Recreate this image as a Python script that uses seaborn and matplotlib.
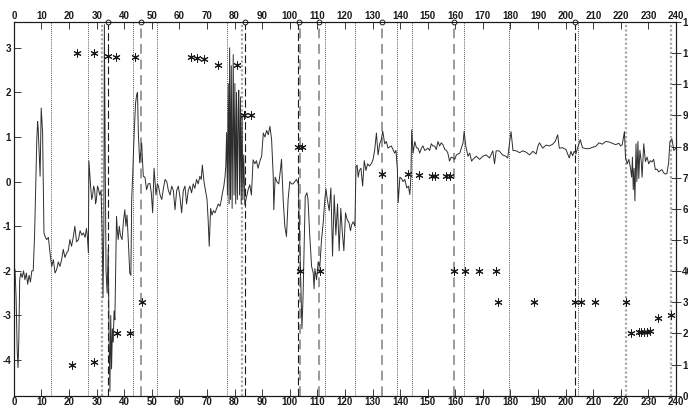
import matplotlib
matplotlib.use('Agg')
import matplotlib.pyplot as plt
import seaborn as sns

# left-axis signal, traced by hand
sig_x = [0, 0.4, 0.8, 1.2, 1.5, 1.8, 2.1, 2.5, 3, 3.5, 4, 4.5, 5, 5.5, 6, 6.5, 7, 7.5, 8, 8.3, 8.6, 8.8, 9.0, 9.5,
         9.9, 10.4, 10.9, 11.4, 11.9, 12.5, 13.1, 13.7,
         14.3, 14.9, 15.5, 16.1, 16.7, 17.3, 17.9, 18.5, 19.1, 19.7, 20.3, 20.9, 21.5, 22.1, 22.7, 23.4, 24, 24.6,
         25.2, 25.8, 26.3, 26.6, 27, 27.2, 27.8, 28.2, 28.5, 28.9, 29.3, 29.6, 29.9, 30.3, 30.6, 31.1, 31.6,
         32.0, 32.3, 32.6, 32.8, 33.1, 33.4, 33.8, 34.2, 34.5, 34.8, 35.1, 35.4, 35.7, 36.0, 36.3, 36.6, 36.9, 37.2,
         37.5, 37.8, 38.2, 38.6, 39.2, 39.7, 40.2, 40.6, 41.0, 41.5, 42, 42.4, 42.7, 43, 43.6, 44.1, 44.5, 44.8,
         45.1, 45.6, 46.3, 46.9,
         47.5, 48.1, 48.7, 49.3, 49.8, 50.3, 50.8, 51.5, 52.0, 52.4, 53.0, 53.6, 54.2, 54.8, 55.4, 56.0, 56.6, 57.2,
         57.8, 58.4, 59.0, 59.6, 60.2, 60.8, 61.4, 62, 62.6, 63.2, 63.8, 64.4, 65, 65.6, 66.2, 66.8, 67.4, 67.9,
         68.3, 68.9, 69.6, 70.0, 70.4, 70.8, 71.3, 71.8, 72.3, 72.9, 73.5, 74.1, 74.7, 75.2, 75.6, 76.1, 76.5,
         76.8, 77.1,
         77.4, 77.7, 78.0, 78.2, 78.5, 78.8, 79.1, 79.5, 79.8, 80.1, 80.4, 80.7, 81.0, 81.3, 81.5, 81.8, 82.1,
         82.4, 82.7, 83.0, 83.3, 83.7,
         84.3, 84.9, 85.5, 86.1, 86.7, 87.3, 87.9, 88.5, 89.1, 89.8, 90.4, 91, 91.6, 92.2, 92.8, 93.4, 94, 94.2,
         94.7, 95.3, 96, 96.5, 97, 97.6, 98.2, 98.8, 99.4, 100, 100.6, 101.2, 101.8, 102.4, 103.1, 103.4, 103.9,
         104.4, 104.8, 105.2, 105.6, 106.2, 106.6, 107.2, 107.9, 108.5, 108.8, 109.1, 109.7, 110.3, 110.9, 111.5,
         112.1, 112.7, 113.1, 113.6, 114.3, 114.9, 115.5, 116.1, 116.7, 117.3, 117.9, 118.5, 119.0, 119.6, 120.2,
         120.8, 121.5, 122.0, 122.4, 123, 123.6, 124, 124.4, 124.8, 125.2, 125.8, 126.4, 127, 127.6, 128.2, 128.9,
         129.7, 130.2, 130.8, 131.4, 132, 132.6, 133.2, 133.7, 134.4, 135, 135.6, 136.2, 136.8, 137.4, 138, 138.5,
         139, 139.3, 139.9, 140.5, 141.1, 141.7, 142.4, 143, 143.5, 143.9, 144.2, 144.7, 145.3, 145.9, 146.5,
         147.1, 147.7, 148.3, 148.9, 149.5, 150.1, 150.7, 151.3, 151.9, 152.5, 153.1, 153.7, 154.3, 154.9, 155.5,
         156.2, 156.8, 157.3, 157.9, 158.5, 159.2, 159.8, 160.4,
         161.6, 162.8, 163.2, 163.8, 164.6, 165.2, 165.9, 166.4, 167.6, 168.8, 170, 171.2, 172.4, 173.6, 174.2,
         174.8, 175.9, 177.1, 178.3, 179, 179.7, 180.2, 180.9, 182.1, 183.3, 184.5, 185.7, 186.9, 188.1, 189.3,
         189.9, 190.5, 191.7, 192.9, 194.1, 195.3, 196.2, 197.1, 197.7, 198.9, 200.1, 201.3, 201.9, 202.5, 203.1,
         203.7, 204.3, 205.3, 206.1, 207.3, 208.5, 209.7, 210.9, 212.1, 213.3, 214.5, 215.7, 216.9, 218.1, 219.3,
         219.9, 220.5, 221.3, 221.7,
         222.3, 222.9, 223.5, 223.9, 224.2, 224.5, 224.8, 225.1, 225.5, 225.8, 226.2, 226.5, 226.9, 227.4, 227.7,
         228.3, 228.9, 229.5, 230.1, 230.7, 231.3, 231.9, 232.5, 233.1, 233.7, 234.9, 235.5, 236.1, 236.7, 237.3,
         237.8, 238.5, 239.2, 240]
sig_y = [-1.95, -1.97, -2.6, -3.8, -4.17, -3.5, -2.2, -2.05, -2.15, -2.0, -2.2, -2.05, -2.3, -2.1, -2.25, -2.0,
         -2.0, -1.2, 0.2, 0.94, 1.35, 1.2, 0.9, 0.12, 1.65, 1.1, -1.15, -1.25, -1.3, -1.25, -1.6, -1.9,
         -1.75, -2.05, -1.97, -1.8, -1.9, -1.75, -1.52, -1.7, -1.6, -1.55, -1.3, -1.45, -1.25, -1.0, -1.35, -1.3,
         -1.1, -1.2, -1.15, -1.25, -1.05, -1.2, -1.6, 0.46, -0.1, -0.4, -0.33, -0.1, -0.2, -0.5, -0.4, -0.1, -0.15,
         -0.3, -0.2,
         -1.2, -2.6, -1.0, 3.52, 0.5, -2.0, -2.5, -1.5, -3.5, -4.7, -3.0, -4.2, -3.3, -3.6, -2.9, -3.1, -2.0, -0.78,
         -1.1, -1.3, -1.0, -1.2, -1.3, -0.9, -0.63, -1.0, -0.75, -1.37, -2.05, -2.1, -0.4, 0.05, 1.1, 1.76, 1.95,
         2.0, 1.1, 0.42, 0.87, 0.12,
         0.1, -0.18, -0.05, -0.04, -0.25, -0.7, 0.3, -0.3, -0.05, -0.1, -0.3, -0.4, -0.15, 0.05, 0.0, -0.2, -0.3,
         -0.1, -0.2, -0.63, -0.2, -0.1, -0.35, -0.7, -0.2, -0.1, -0.5, -0.2, -0.1, -0.25, -0.05, -0.15, 0.05, -0.05,
         0.12, 0.05, 0.37, 0.0, -0.25, -0.4, -0.85, -1.45, -0.6, -0.75, -0.65, -0.7, -0.6, -0.5, -0.55, -0.4, -0.25,
         -0.1, 0.1, 0.34, 1.1,
         -0.3, 2.2, -0.5, 3.0, -0.4, 2.6, -0.6, 2.85, -0.3, 2.2, -0.5, 2.0, -0.4, 1.6, 2.05, -0.3, 1.9, -0.5, 1.5,
         -0.4, 0.6, -0.52,
         -0.35, -0.18, -0.07, -0.3, 0.49, 0.4, 0.47, 0.3, 0.45, 0.57, 1.09, 1.0, 1.15, 1.05, 1.24, 0.95, 0.12, -0.63,
         0.1, 0.0, -0.05, 0.2, 0.5, -0.4, -1.0, -1.23, -0.4, 0.0, -0.05, -0.05, 0.0, 0.05, -0.05, -0.78, -2.05,
         -3.3, -2.6, -1.5, -0.33, -0.25, -0.4, -1.16, -1.9, -2.05, -2.4, -1.95, -2.2, -1.8, -1.9, -1.3,
         -0.93, -0.4, -0.16, -0.4, -0.65, -0.14, -1.67, -0.3, -1.2, -0.5, -1.55, -0.6, -1.1, -1.55, -0.7,
         -0.85, -0.93, -1.1, -0.97, -0.9, -1.0, 0.34, 0.37, 0.1, 0.25, 0.3, -0.1, 0.47, 0.25, 0.4, 0.35,
         0.42, 0.5, 0.72, 1.09, 0.6, 0.85, 0.95, 1.13, 0.85, 0.9, 0.75, 0.78, 0.8, 0.72, 0.64, 0.7,
         0.27, -0.47, 0.1, 0.07, 0.0, 0.05, -0.14, -0.1, -0.29, 0.1, 1.16, 0.64, 0.9, 0.76, 0.75,
         0.64, 0.75, 0.8, 0.7, 0.72, 0.75, 0.7, 0.85, 0.8, 0.8, 0.72, 0.9, 0.8, 0.87, 0.83,
         0.72, 0.7, 0.64, 0.46, 0.55, 0.53, 0.5, 0.6,
         0.64, 0.87, 1.13, 0.79, 0.57, 0.64, 0.46, 0.5, 0.57, 0.5, 0.57, 0.6, 0.53, 0.69, 0.4,
         0.69, 0.69, 0.6, 0.57, 0.53, 0.9, 1.12, 0.7, 0.69, 0.65, 0.69, 0.66, 0.6, 0.68, 0.62,
         0.79, 0.87, 0.75, 0.82, 0.8, 0.84, 0.9, 1.05, 0.75, 0.76, 0.72, 0.53, 0.68, 0.58, 0.68,
         0.62, 0.75, 0.94, 0.76, 0.74, 0.74, 0.77, 0.79, 0.87, 0.84, 0.9, 0.89, 0.86, 0.83, 0.86,
         0.8, 0.83, 1.12, 0.53,
         0.4, 0.5, 0.3, 0.1, 0.55, -0.18, 0.3, -0.43, 0.85, 0.0, 0.9, 0.07, 0.7, 0.45, 0.1,
         0.85, 0.45, 0.55, 0.4, 0.47, 0.44, 0.5, 0.27, 0.28, 0.22, 0.27, 0.2, 0.17, 0.18, 0.42,
         0.9, 0.96, 0.7, 0.75]

# right-axis asterisks
star_x = [23, 29.1, 34.2, 37.1, 43.9, 64.1, 66.2, 68.9, 74.1, 80.9, 83.4, 85.8, 103, 104.6,
          133.6, 142.7, 146.9, 151.4, 152.6, 156.8, 158,
          20.9, 29.1, 37.2, 42.1, 46.3, 103.7, 110.9, 159.4, 163.4, 168.6, 174.7,
          175.5, 188.6, 203.3, 205.7, 210.5, 221.7,
          223.5, 226.6, 227.4, 228.4, 229.3, 230.5, 233.5, 238.3]
star_y = [110, 110, 109.1, 108.9, 108.9, 108.7, 108.3, 108, 106.2, 106.1, 90, 90, 80, 80,
          71.3, 71.2, 70.9, 70.7, 70.7, 70.6, 70.5,
          10, 10.8, 20, 20, 30, 40, 40, 40, 40, 40, 40,
          30, 30, 30, 30, 30, 30,
          20.2, 20.3, 20.4, 20.5, 20.6, 20.8, 25, 26]

dotted_x = [13.4, 27, 43, 52, 77.1, 112.8, 123.6, 139, 144.3, 163.2, 179.5, 204.4]
dotted_gray_x = [31.8, 82.5, 222, 238.1]
dashed_x = [34.1, 83.9, 102.8, 203.5]
dashed_gray_x = [46, 103.7, 110.6, 133.6, 159.4]
circle_x = [34.1, 46, 83.9, 103.3, 110.6, 133.6, 159.4, 203.5]

x_ticks = [0, 10, 20, 30, 40, 50, 60, 70, 80, 90, 100, 110, 120, 130, 140, 150, 160, 170, 180, 190, 200,
           210, 220, 230, 240]
left_ticks = [-4, -3, -2, -1, 0, 1, 2, 3]
right_ticks = [0, 10, 20, 30, 40, 50, 60, 70, 80, 90, 100, 110, 120]

sns.set_theme(style='white')
plt.rcParams['font.family'] = ['Liberation Sans', 'DejaVu Sans']
plt.rcParams['font.weight'] = 'bold'

fig = plt.figure(figsize=(6.88, 4.05), dpi=100)
ax = fig.add_axes([0.0202, 0.023, 0.9624, 0.9227])
ax2 = ax.twinx()

y_top = 3.58
ax.set_xlim(0, 240)
ax.set_ylim(-4.8, y_top)
ax2.set_ylim(0, 120)

for xv in dotted_x:
    ax.axvline(xv, color='k', lw=0.6, ls=(0, (1, 1.5)), zorder=1)
for xv in dotted_gray_x:
    ax.axvline(xv, color='#a8a8a8', lw=1.6, ls=(0, (1, 1)), zorder=1)
for xv in dashed_x:
    ax.axvline(xv, color='k', lw=0.8, ls=(0, (7, 3)), zorder=1)
for xv in dashed_gray_x:
    ax.axvline(xv, color='#9a9a9a', lw=1.4, ls=(0, (5, 3)), zorder=1)

sns.lineplot(x=sig_x, y=sig_y, ax=ax, color='#2e2e2e', lw=0.7, estimator=None, sort=False, zorder=3)

sns.scatterplot(x=circle_x, y=[y_top] * len(circle_x), ax=ax, marker='o', s=12,
                facecolor='white', edgecolor='k', linewidth=0.7, clip_on=False, zorder=5)

sns.scatterplot(x=star_x, y=star_y, ax=ax2, marker='o', s=9, color='#b0b0b0', linewidth=0, zorder=3)
sns.scatterplot(x=star_x, y=star_y, ax=ax2, marker=(6, 2, 0), s=28, color='k', linewidth=0.7, zorder=4)

ax.set_xticks(x_ticks)
ax.set_xticklabels([str(t) for t in x_ticks])
ax.set_yticks(left_ticks)
ax.set_yticklabels([str(t) for t in left_ticks])
ax2.set_yticks(right_ticks)
ax2.set_yticklabels([str(t) for t in right_ticks])

ax.tick_params(axis='x', which='major', bottom=True, top=True, labelbottom=True, labeltop=True,
               direction='in', length=5, width=0.6, pad=1, labelsize=7, colors='k')
ax.tick_params(axis='y', which='major', left=True, direction='in', length=5, width=0.6, pad=2,
               labelsize=7, colors='k')
ax2.tick_params(axis='y', which='major', right=True, direction='inout', length=7, width=0.6, pad=1,
                labelsize=7, colors='k')

for a in (ax, ax2):
    a.set_xlabel('')
    a.set_ylabel('')
    for sp in a.spines.values():
        sp.set_color('k')
        sp.set_linewidth(0.8)
ax.grid(False)
ax2.grid(False)

fig.savefig('out.png', dpi=100)
